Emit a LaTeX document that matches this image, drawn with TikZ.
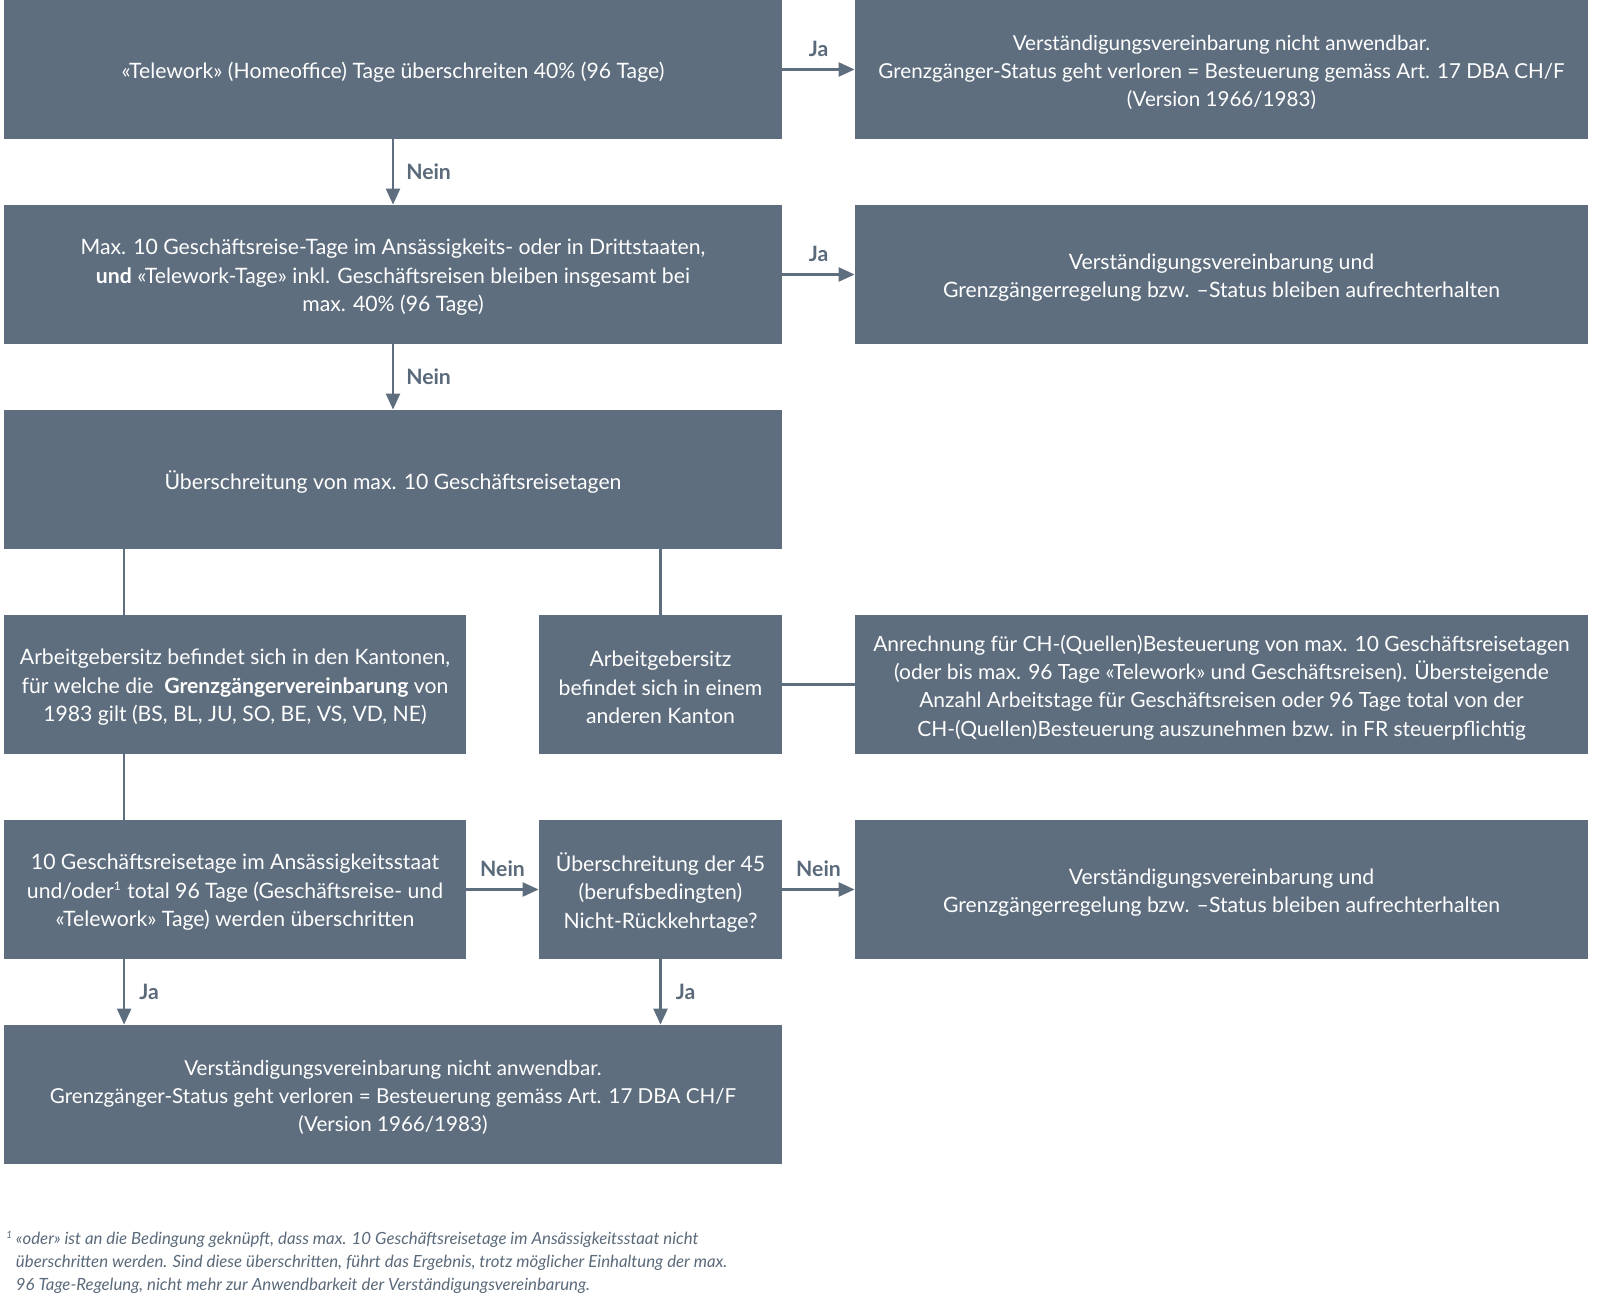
\documentclass[tikz,border=0pt]{standalone}
\usepackage{fontspec}
\setmainfont{Lato}
\usetikzlibrary{arrows.meta}
\definecolor{boxc}{HTML}{5E6E7E}
\definecolor{labc}{HTML}{5A6A7A}
\tikzset{
  box/.style={fill=boxc, inner sep=0pt, minimum height=69.5pt},
  btext/.style={text=white, align=center, inner sep=0pt, yshift=-1.5pt,
    font=\fontsize{10.6}{14.2}\selectfont},
  btextn/.style={btext, font=\fontsize{10.3}{14.2}\selectfont},
  btexth/.style={btext, font=\fontsize{10.48}{14.2}\selectfont},
  wide/.style={box, minimum width=389pt},
  rbox/.style={box, minimum width=366.5pt},
  lbox/.style={box, minimum width=231pt},
  mbox/.style={box, minimum width=121.5pt},
  conn/.style={draw=boxc, line width=1.25pt},
  arr/.style={conn, -{Triangle[length=8pt,width=7pt]}},
  lab/.style={text=labc, font=\bfseries\fontsize{10.6}{12}\selectfont, inner sep=0pt},
}
\begin{document}
\begin{tikzpicture}[x=0.5pt,y=-0.5pt]
\useasboundingbox (0,0) rectangle (1600,1299);
\node[wide, label={[btext]center:{«Telework» (Homeoffice) Tage überschreiten 40\% (96 Tage)}}] (A) at (393,69.5) {};
\node[rbox, label={[btextn]center:{Verständigungsvereinbarung nicht anwendbar.\\Grenzgänger-Status geht verloren = Besteuerung gemäss Art. 17 DBA CH/F\\(Version 1966/1983)}}] (B) at (1221.5,69.5) {};
\node[wide, label={[btext]center:{Max. 10 Geschäftsreise-Tage im Ansässigkeits- oder in Drittstaaten,\\\textbf{und} «Telework-Tage» inkl. Geschäftsreisen bleiben insgesamt bei\\max. 40\% (96 Tage)}}] (C) at (393,274.5) {};
\node[rbox, label={[btext]center:{Verständigungsvereinbarung und\\Grenzgängerregelung bzw. –Status bleiben aufrechterhalten}}] (D) at (1221.5,274.5) {};
\node[wide, label={[btext]center:{Überschreitung von max. 10 Geschäftsreisetagen}}] (E) at (393,479.5) {};
\node[lbox, label={[btext]center:{Arbeitgebersitz befindet sich in den Kantonen,\\für welche die \ \textbf{Grenzgängervereinbarung} von\\1983 gilt (BS, BL, JU, SO, BE, VS, VD, NE)}}] (F) at (235,684.5) {};
\node[mbox, label={[btext]center:{Arbeitgebersitz\\befindet sich in einem\\anderen Kanton}}] (G) at (660.5,684.5) {};
\node[rbox, label={[btexth]center:{Anrechnung für CH-(Quellen)Besteuerung von max. 10 Geschäftsreisetagen\\(oder bis max. 96 Tage «Telework» und Geschäftsreisen). Übersteigende\\Anzahl Arbeitstage für Geschäftsreisen oder 96 Tage total von der\\CH-(Quellen)Besteuerung auszunehmen bzw. in FR steuerpflichtig}}] (H) at (1221.5,684.5) {};
\node[lbox, label={[btext]center:{10 Geschäftsreisetage im Ansässigkeitsstaat\\und/oder\textsuperscript{\fontsize{6}{6}\selectfont 1} total 96 Tage (Geschäftsreise- und\\«Telework» Tage) werden überschritten}}] (I) at (235,889.5) {};
\node[mbox, label={[btext]center:{Überschreitung der 45\\(berufsbedingten)\\Nicht-Rückkehrtage?}}] (J) at (660.5,889.5) {};
\node[rbox, label={[btext]center:{Verständigungsvereinbarung und\\Grenzgängerregelung bzw. –Status bleiben aufrechterhalten}}] (K) at (1221.5,889.5) {};
\node[wide, label={[btextn]center:{Verständigungsvereinbarung nicht anwendbar.\\Grenzgänger-Status geht verloren = Besteuerung gemäss Art. 17 DBA CH/F\\(Version 1966/1983)}}] (L) at (393,1094.5) {};
% connectors
\draw[arr] (A.east) -- node[lab, above=6pt] {Ja} (B.west);
\draw[arr] (A.south) -- node[lab, right=6pt] {Nein} (C.north);
\draw[arr] (C.east) -- node[lab, above=6pt] {Ja} (D.west);
\draw[arr] (C.south) -- node[lab, right=6pt] {Nein} (E.north);
\draw[conn] (E.south -| F.north west) ++(120.5,0) coordinate (e1) -- (e1 |- F.north);
\draw[conn] (E.south -| G.north) -- (G.north);
\draw[conn] (G.east) -- (H.west);
\draw[conn] (F.south west) ++(120.5,0) coordinate (f1) -- (f1 |- I.north);
\draw[arr] (I.east) -- node[lab, above=6pt] {Nein} (J.west);
\draw[arr] (J.east) -- node[lab, above=6pt] {Nein} (K.west);
\draw[arr] (I.south west) ++(120.5,0) coordinate (i1) -- node[lab, right=7pt] {Ja} (i1 |- L.north);
\draw[arr] (J.south) -- node[lab, right=7pt] {Ja} (J.south |- L.north);
% footnote
\node[anchor=north west, align=left, inner sep=0pt, text=labc,
  font=\itshape\fontsize{8.4}{11.6}\selectfont] (fn) at (6,1231)
  {\textsuperscript{\fontsize{5}{5}\selectfont 1}\,«oder» ist an die Bedingung geknüpft, dass max. 10 Geschäftsreisetage im Ansässigkeitsstaat nicht\\
  \phantom{\textsuperscript{\fontsize{5}{5}\selectfont 1}\,}überschritten werden. Sind diese überschritten, führt das Ergebnis, trotz möglicher Einhaltung der max.\\
  \phantom{\textsuperscript{\fontsize{5}{5}\selectfont 1}\,}96 Tage-Regelung, nicht mehr zur Anwendbarkeit der Verständigungsvereinbarung.};
\end{tikzpicture}
\end{document}
